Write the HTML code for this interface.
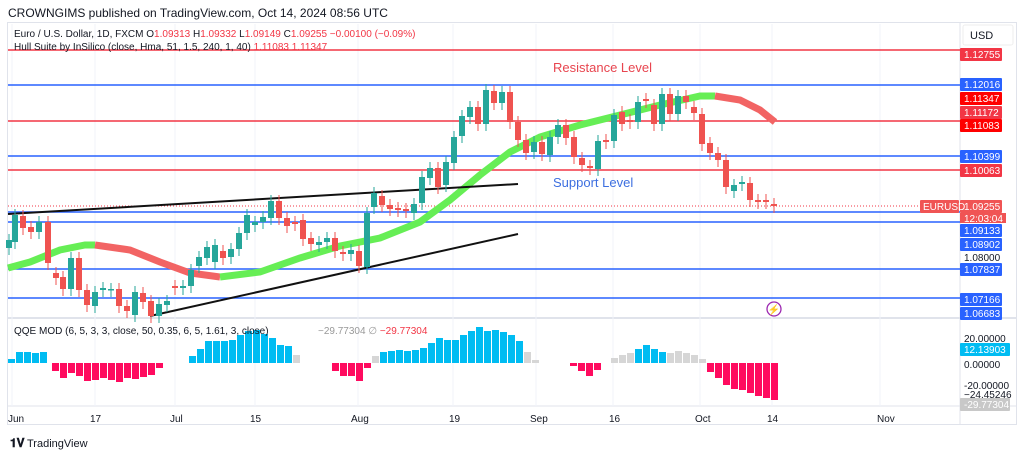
<!DOCTYPE html>
<html><head><meta charset="utf-8"><style>
body{margin:0;background:#fff;width:1024px;height:458px;overflow:hidden;font-family:"Liberation Sans",sans-serif}
svg{position:absolute;left:0;top:0}
</style></head><body>
<svg id="s" width="1024" height="458" xmlns="http://www.w3.org/2000/svg" font-family="Liberation Sans, sans-serif">
<rect width="1024" height="458" fill="#fff"/>
<text x="8" y="17" font-size="12" fill="#131722">CROWNGIMS published on TradingView.com, Oct 14, 2024 08:56 UTC</text>
<rect x="7.5" y="22.5" width="1009" height="402" fill="none" stroke="#e0e3eb"/>
<line x1="960" y1="22" x2="960" y2="425" stroke="#e0e3eb"/>
<line x1="8" y1="318" x2="1016" y2="318" stroke="#e0e3eb" stroke-width="2"/>
<line x1="8" y1="406" x2="1016" y2="406" stroke="#e0e3eb"/>
<g id="grid" stroke="#f0f3fa"></g>
<g id="hl"></g>
<line x1="8" y1="206" x2="960" y2="206" stroke="#f23645" stroke-dasharray="1,2" stroke-width="1"/>
<g id="hull" fill="none" stroke-width="7" stroke-linecap="butt"></g>
<line x1="8" y1="214" x2="518" y2="184" stroke="#111" stroke-width="2"/>
<line x1="150" y1="316" x2="518" y2="234" stroke="#111" stroke-width="2"/>
<g id="c"></g>
<g id="q"></g>
<text x="553" y="72" font-size="13" fill="#e8454f">Resistance Level</text>
<text x="553" y="187" font-size="13" fill="#3d6fe0">Support Level</text>
<text x="14" y="37" font-size="10" fill="#131722">Euro / U.S. Dollar, 1D, FXCM  O<tspan fill="#f23645">1.09313</tspan>  H<tspan fill="#f23645">1.09332</tspan>  L<tspan fill="#f23645">1.09149</tspan>  C<tspan fill="#f23645">1.09255</tspan>  <tspan fill="#f23645">−0.00100 (−0.09%)</tspan></text>
<text x="14" y="50" font-size="10" fill="#131722">Hull Suite by InSilico (close, Hma, 51, 1.5, 240, 1, 40)  <tspan fill="#f23645">1.11083  1.11347</tspan></text>
<text x="14" y="334" font-size="10" fill="#131722">QQE MOD (6, 5, 3, 3, close, 50, 0.35, 6, 5, 1.61, 3, close)</text>
<text x="318" y="334" font-size="10" fill="#999">−29.77304  ∅  <tspan fill="#f23645">−29.77304</tspan></text>
<circle cx="774" cy="309" r="7" fill="none" stroke="#9c27b0" stroke-width="1.3"/>
<text x="774" y="313" font-size="10" text-anchor="middle" fill="#9c27b0">⚡</text>
<rect x="963" y="25" width="50" height="20" rx="2" fill="#fff" stroke="#eee"/>
<text x="970" y="39" font-size="11" fill="#131722">USD</text>
<g id="ax" font-size="10"></g>
<g font-size="10" fill="#131722">
<text x="8" y="422">Jun</text><text x="90" y="422">17</text><text x="170" y="422">Jul</text><text x="250" y="422">15</text>
<text x="351" y="422">Aug</text><text x="449" y="422">19</text><text x="530" y="422">Sep</text><text x="609" y="422">16</text>
<text x="695" y="422">Oct</text><text x="767" y="422">14</text><text x="877" y="422">Nov</text>
</g>
<text x="10" y="447" font-size="12" font-weight="bold" fill="#131722">𝟏𝐕</text>
<text x="27" y="447" font-size="11" fill="#131722">TradingView</text>
</svg>
<script>
const NS="http://www.w3.org/2000/svg";
function el(p,t,a,txt){const e=document.createElementNS(NS,t);for(const k in a)e.setAttribute(k,a[k]);if(txt)e.textContent=txt;document.getElementById(p).appendChild(e);return e;}
[12,95,175,255,358,453,536,613,700,772,880].forEach(x=>el('grid','line',{x1:x,y1:24,x2:x,y2:406}));
const R="#f23645",B="#2962ff";
[[50,R],[85,B],[121,R],[156,B],[170,R],[212,B],[222,B],[269,B],[298,B]].forEach(([y,c])=>el('hl','line',{x1:8,y1:y,x2:960,y2:y,stroke:c,"stroke-width":1.5}));
function pl(pts,c){el('hull','polyline',{points:pts.map(p=>p.join(',')).join(' '),stroke:c});}
pl([[8,268],[30,262],[60,250],[85,245],[95,245]],"#66ee55");
pl([[95,245],[130,250],[160,262],[190,273],[220,277]],"#f26464");
pl([[220,277],[260,272],[300,258],[340,246],[380,238],[420,222],[450,200],[480,175],[510,152],[540,137],[580,125],[620,115],[660,105],[700,96],[715,96]],"#66ee55");
pl([[715,96],[740,100],[760,110],[775,122]],"#f26464");
const C=[[9,240,248,1],[15,215,242,1],[23,216,228,0],[31,227,232,0],[39,222,232,1],[48,222,263,0],[56,273,278,0],[63,277,289,0],[71,258,289,1],[79,258,290,0],[87,290,305,0],[95,292,306,1],[103,288,290,1],[111,289,290,1],[119,289,306,0],[127,306,311,0],[135,292,315,1],[143,293,302,0],[151,301,316,0],[159,304,316,1],[167,301,305,1],[175,286,288,0],[183,286,288,1],[191,270,286,1],[199,257,266,1],[207,247,258,1],[215,245,262,1],[223,251,258,0],[231,249,257,1],[239,233,249,1],[247,215,233,1],[255,222,225,1],[263,217,222,1],[271,201,218,1],[279,201,218,0],[287,218,226,0],[295,222,224,0],[303,220,239,0],[311,238,244,0],[319,242,245,1],[327,238,242,1],[335,238,251,0],[343,252,254,0],[351,250,254,1],[359,251,266,0],[367,213,267,1],[374,193,207,1],[382,196,205,0],[390,205,209,0],[398,208,210,0],[406,209,211,0],[414,204,213,1],[422,177,203,1],[430,168,178,1],[438,168,187,0],[446,162,185,1],[454,137,163,1],[462,116,136,1],[470,107,117,1],[478,107,124,0],[486,90,124,1],[494,91,103,0],[502,92,103,1],[510,92,122,0],[518,122,140,0],[526,140,153,0],[534,142,152,1],[542,142,154,0],[550,137,155,1],[558,125,137,1],[566,125,138,0],[574,137,157,0],[582,158,165,0],[590,166,168,0],[598,141,169,1],[606,140,142,0],[614,115,141,1],[622,112,124,0],[630,120,122,0],[638,102,122,1],[646,99,101,0],[654,105,124,0],[662,94,124,1],[670,94,114,0],[678,96,114,1],[686,96,102,0],[694,107,113,0],[702,114,144,0],[710,143,153,0],[718,153,160,0],[726,160,187,0],[734,185,191,1],[742,182,184,1],[750,183,200,0],[758,200,202,0],[766,200,202,0],[774,204,206,0]];
C.forEach(([x,t,b,g])=>{const col=g?"#26a69a":"#ef5350";el('c','line',{x1:x,y1:t-6,x2:x,y2:b+7,stroke:col,"stroke-width":1});el('c','rect',{x:x-3,y:t,width:6,height:Math.max(1.5,b-t),fill:col});});
const Z=363;
function bars(x0,arr,col){arr.forEach((h,i)=>{const x=x0+i*8;const c=col(h,i);if(h>=0)el('q','rect',{x:x,y:Z-h,width:7,height:h,fill:c});else el('q','rect',{x:x,y:Z,width:7,height:-h,fill:c});});}
const cy="#00bcf2",rd="#ff0b5f",gy="#d6d6d6";
bars(8,[4,11,11,10,11],()=>cy);
bars(52,[-8,-15,-10,-13,-18,-17,-15,-17,-19,-15,-16,-14,-12,-5],()=>rd);
bars(189,[7,14,22,22,22,23,28,32,33,29,25,18,17,8],(h,i)=>i==13?gy:cy);
bars(332,[-8,-13,-13,-18,-5,7,11,12,13,12,13,15,20,25,23,23,28,32,36,32,33,31,28,22,11,3],(h,i)=>h<0?rd:(i==5||i>=24)?gy:cy);
bars(570,[-3,-8,-13,-7],()=>rd);
bars(611,[5,8,10,14,18,14,11,10,12,10,8,4],(h,i)=>(i>=3&&i<=6)?cy:gy);
bars(707,[-9,-15,-22,-26,-27,-30,-33,-35,-37],()=>rd);
const L=[[48,"1.12755","#f23645"],[78,"1.12016",B],[92,"1.11347","#ff0000"],[106,"1.11172","#f23645"],[119,"1.11083","#ff0000"],[150,"1.10399",B],[164,"1.10063","#f23645"],[200,"1.09255","#f05454"],[224,"1.09133",B],[238,"1.08902",B],[263,"1.07837",B],[293,"1.07166",B],[307,"1.06683",B],[343,"12.13903","#00bcf2"],[398,"-29.77304","#c8c8c8"]];
el('ax','text',{x:964,y:261,fill:"#131722"},"1.08000");
el('ax','text',{x:964,y:342,fill:"#131722"},"20.00000");
el('ax','text',{x:964,y:368,fill:"#131722"},"0.00000");
el('ax','text',{x:964,y:389,fill:"#131722"},"-20.00000");
L.forEach(([y,t,c])=>{el('ax','rect',{x:960,y:y,width:t.length>7?50:42,height:13,fill:c,rx:1});el('ax','text',{x:964,y:y+10,fill:"#fff"},t);});
el('ax','rect',{x:960,y:213,width:46,height:10,fill:"#f05454"});
el('ax','text',{x:964,y:222,fill:"#fff"},"12:03:04");
el('ax','text',{x:964,y:398,fill:"#131722"},"−24.45246");
el('ax','rect',{x:920,y:200,width:39,height:13,fill:"#f05454",rx:1});
el('ax','text',{x:923,y:210,fill:"#fff"},"EURUSD");
</script>
</body></html>
